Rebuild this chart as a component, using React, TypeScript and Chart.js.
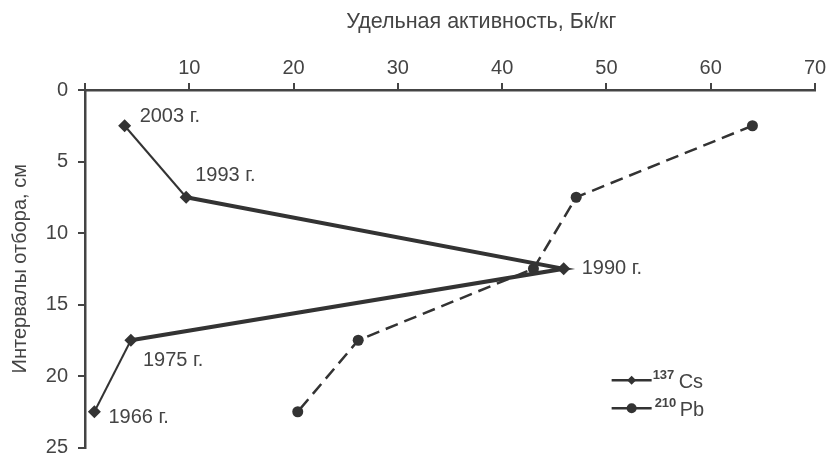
import React, { useEffect, useRef } from "react";
import { Chart, registerables } from "chart.js";

Chart.register(...registerables);

const depths = [2.5, 7.5, 12.5, 17.5, 22.5];
const cs137 = [3.8, 9.7, 45.9, 4.4, 0.9];
const pb210 = [64.0, 47.1, 43.0, 26.2, 20.4];
const yearLabels = ["2003 г.", "1993 г.", "1990 г.", "1975 г.", "1966 г."];
const xTicks = [0, 10, 20, 30, 40, 50, 60, 70];
const yTicks = [0, 5, 10, 15, 20, 25];
const xTitle = "Удельная активность, Бк/кг";
const yTitle = "Интервалы отбора, см";

const INK = "#333333";
const TEXT = "#444444";
const FONT = "'Liberation Sans', Arial, sans-serif";

// pixel offsets of each year label relative to its point
const labelOffsets = [
  [15, -9],
  [9, -22],
  [18, 0],
  [12, 20],
  [14, 6],
];

const annotationPlugin = {
  id: "yearLabels",
  afterDatasetsDraw(chart: any) {
    const ctx = chart.ctx;
    const meta = chart.getDatasetMeta(0);
    const xs = chart.scales.x;
    const ys = chart.scales.y;
    ctx.save();

    // top axis title (offset to the right as in the original)
    ctx.fillStyle = TEXT;
    ctx.font = `21.5px ${FONT}`;
    ctx.textAlign = "center";
    ctx.textBaseline = "middle";
    ctx.fillText(xTitle, xs.getPixelForValue(38.0), 22);

    ctx.font = `20px ${FONT}`;
    ctx.textBaseline = "middle";
    ctx.textAlign = "left";
    meta.data.forEach((pt: any, i: number) => {
      const [dx, dy] = labelOffsets[i];
      ctx.fillText(yearLabels[i], pt.x + dx, pt.y + dy);
    });

    // custom legend with superscripts
    const lx = xs.getPixelForValue(50.5);
    const lw = 40;
    const items = [
      { sup: "137", name: "Cs", y: ys.getPixelForValue(20.3), style: "rectRot", r: 4.5, w: 2.5, sx: 1, nx: 27 },
      { sup: "210", name: "Pb", y: ys.getPixelForValue(22.25), style: "circle", r: 5, w: 2.5, sx: 3, nx: 28 },
    ];
    items.forEach((it) => {
      ctx.strokeStyle = INK;
      ctx.lineWidth = it.w;
      ctx.beginPath();
      ctx.moveTo(lx, it.y);
      ctx.lineTo(lx + lw, it.y);
      ctx.stroke();
      ctx.fillStyle = INK;
      ctx.beginPath();
      if (it.style === "circle") {
        ctx.arc(lx + lw / 2, it.y, it.r, 0, Math.PI * 2);
      } else {
        ctx.moveTo(lx + lw / 2, it.y - it.r);
        ctx.lineTo(lx + lw / 2 + it.r, it.y);
        ctx.lineTo(lx + lw / 2, it.y + it.r);
        ctx.lineTo(lx + lw / 2 - it.r, it.y);
        ctx.closePath();
      }
      ctx.fill();
      ctx.fillStyle = TEXT;
      ctx.font = `bold 13px ${FONT}`;
      ctx.textBaseline = "alphabetic";
      ctx.fillText(it.sup, lx + lw + it.sx, it.y - 1);
      ctx.font = `20px ${FONT}`;
      ctx.fillText(it.name, lx + lw + it.nx, it.y + 8);
    });
    ctx.restore();
  },
};

export default function App() {
  const ref = useRef<HTMLCanvasElement>(null);

  useEffect(() => {
    if (!ref.current) return;
    const thick = new Set([1, 2]);
    const chart = new Chart(ref.current, {
      type: "scatter",
      data: {
        datasets: [
          {
            label: "137 Cs",
            data: depths.map((d, i) => ({ x: cs137[i], y: d })),
            showLine: true,
            borderColor: INK,
            backgroundColor: INK,
            borderWidth: 2,
            pointStyle: "rectRot",
            pointRadius: 6.5,
            pointBorderWidth: 0,
            segment: {
              borderWidth: (c: any) => (thick.has(c.p0DataIndex) ? 4 : 2),
            },
          },
          {
            label: "210 Pb",
            data: depths.map((d, i) => ({ x: pb210[i], y: d })),
            showLine: true,
            borderColor: INK,
            backgroundColor: INK,
            borderWidth: 2.5,
            borderDash: [13, 7],
            pointStyle: "circle",
            pointRadius: 5.5,
            pointBorderWidth: 0,
          },
        ],
      },
      options: {
        responsive: false,
        animation: false,
        layout: { padding: { left: 8, right: 14, top: 8, bottom: 6 } },
        plugins: {
          legend: { display: false },
          tooltip: { enabled: false },
        },
        scales: {
          x: {
            type: "linear",
            position: "top",
            min: 0,
            max: 70,
            afterBuildTicks: (s: any) => {
              s.ticks = xTicks.map((v) => ({ value: v }));
            },
            ticks: {
              color: TEXT,
              font: { family: FONT, size: 20 },
              padding: 3,
              callback: (v: any) => (v === 0 ? "" : String(v)),
            },
            grid: {
              drawOnChartArea: false,
              color: "#444",
              lineWidth: 2,
              tickLength: 7,
            },
            border: { color: "#444", width: 2.5 },
            afterFit: (s: any) => {
              s.height = 82;
              s.paddingLeft = 0;
              s.paddingRight = 0;
            },
          },
          y: {
            type: "linear",
            reverse: true,
            min: 0,
            max: 25,
            afterBuildTicks: (s: any) => {
              s.ticks = yTicks.map((v) => ({ value: v }));
            },
            ticks: {
              color: TEXT,
              font: { family: FONT, size: 20 },
              padding: 10,
            },
            grid: {
              drawOnChartArea: false,
              color: "#444",
              lineWidth: 2,
              tickLength: 7,
            },
            border: { color: "#444", width: 2.5 },
            title: {
              display: true,
              text: yTitle,
              color: TEXT,
              font: { family: FONT, size: 20 },
              padding: { top: 0, bottom: 2 },
            },
            afterFit: (s: any) => {
              s.width = 77;
              s.paddingTop = 0;
              s.paddingBottom = 0;
            },
          },
        },
      },
      plugins: [annotationPlugin],
    });
    return () => chart.destroy();
  }, []);

  return (
    <div style={{ position: "fixed", left: 0, top: 0, width: 829, height: 454, background: "#ffffff" }}>
      <canvas ref={ref} width={829} height={454} style={{ width: 829, height: 454, display: "block" }} />
    </div>
  );
}
